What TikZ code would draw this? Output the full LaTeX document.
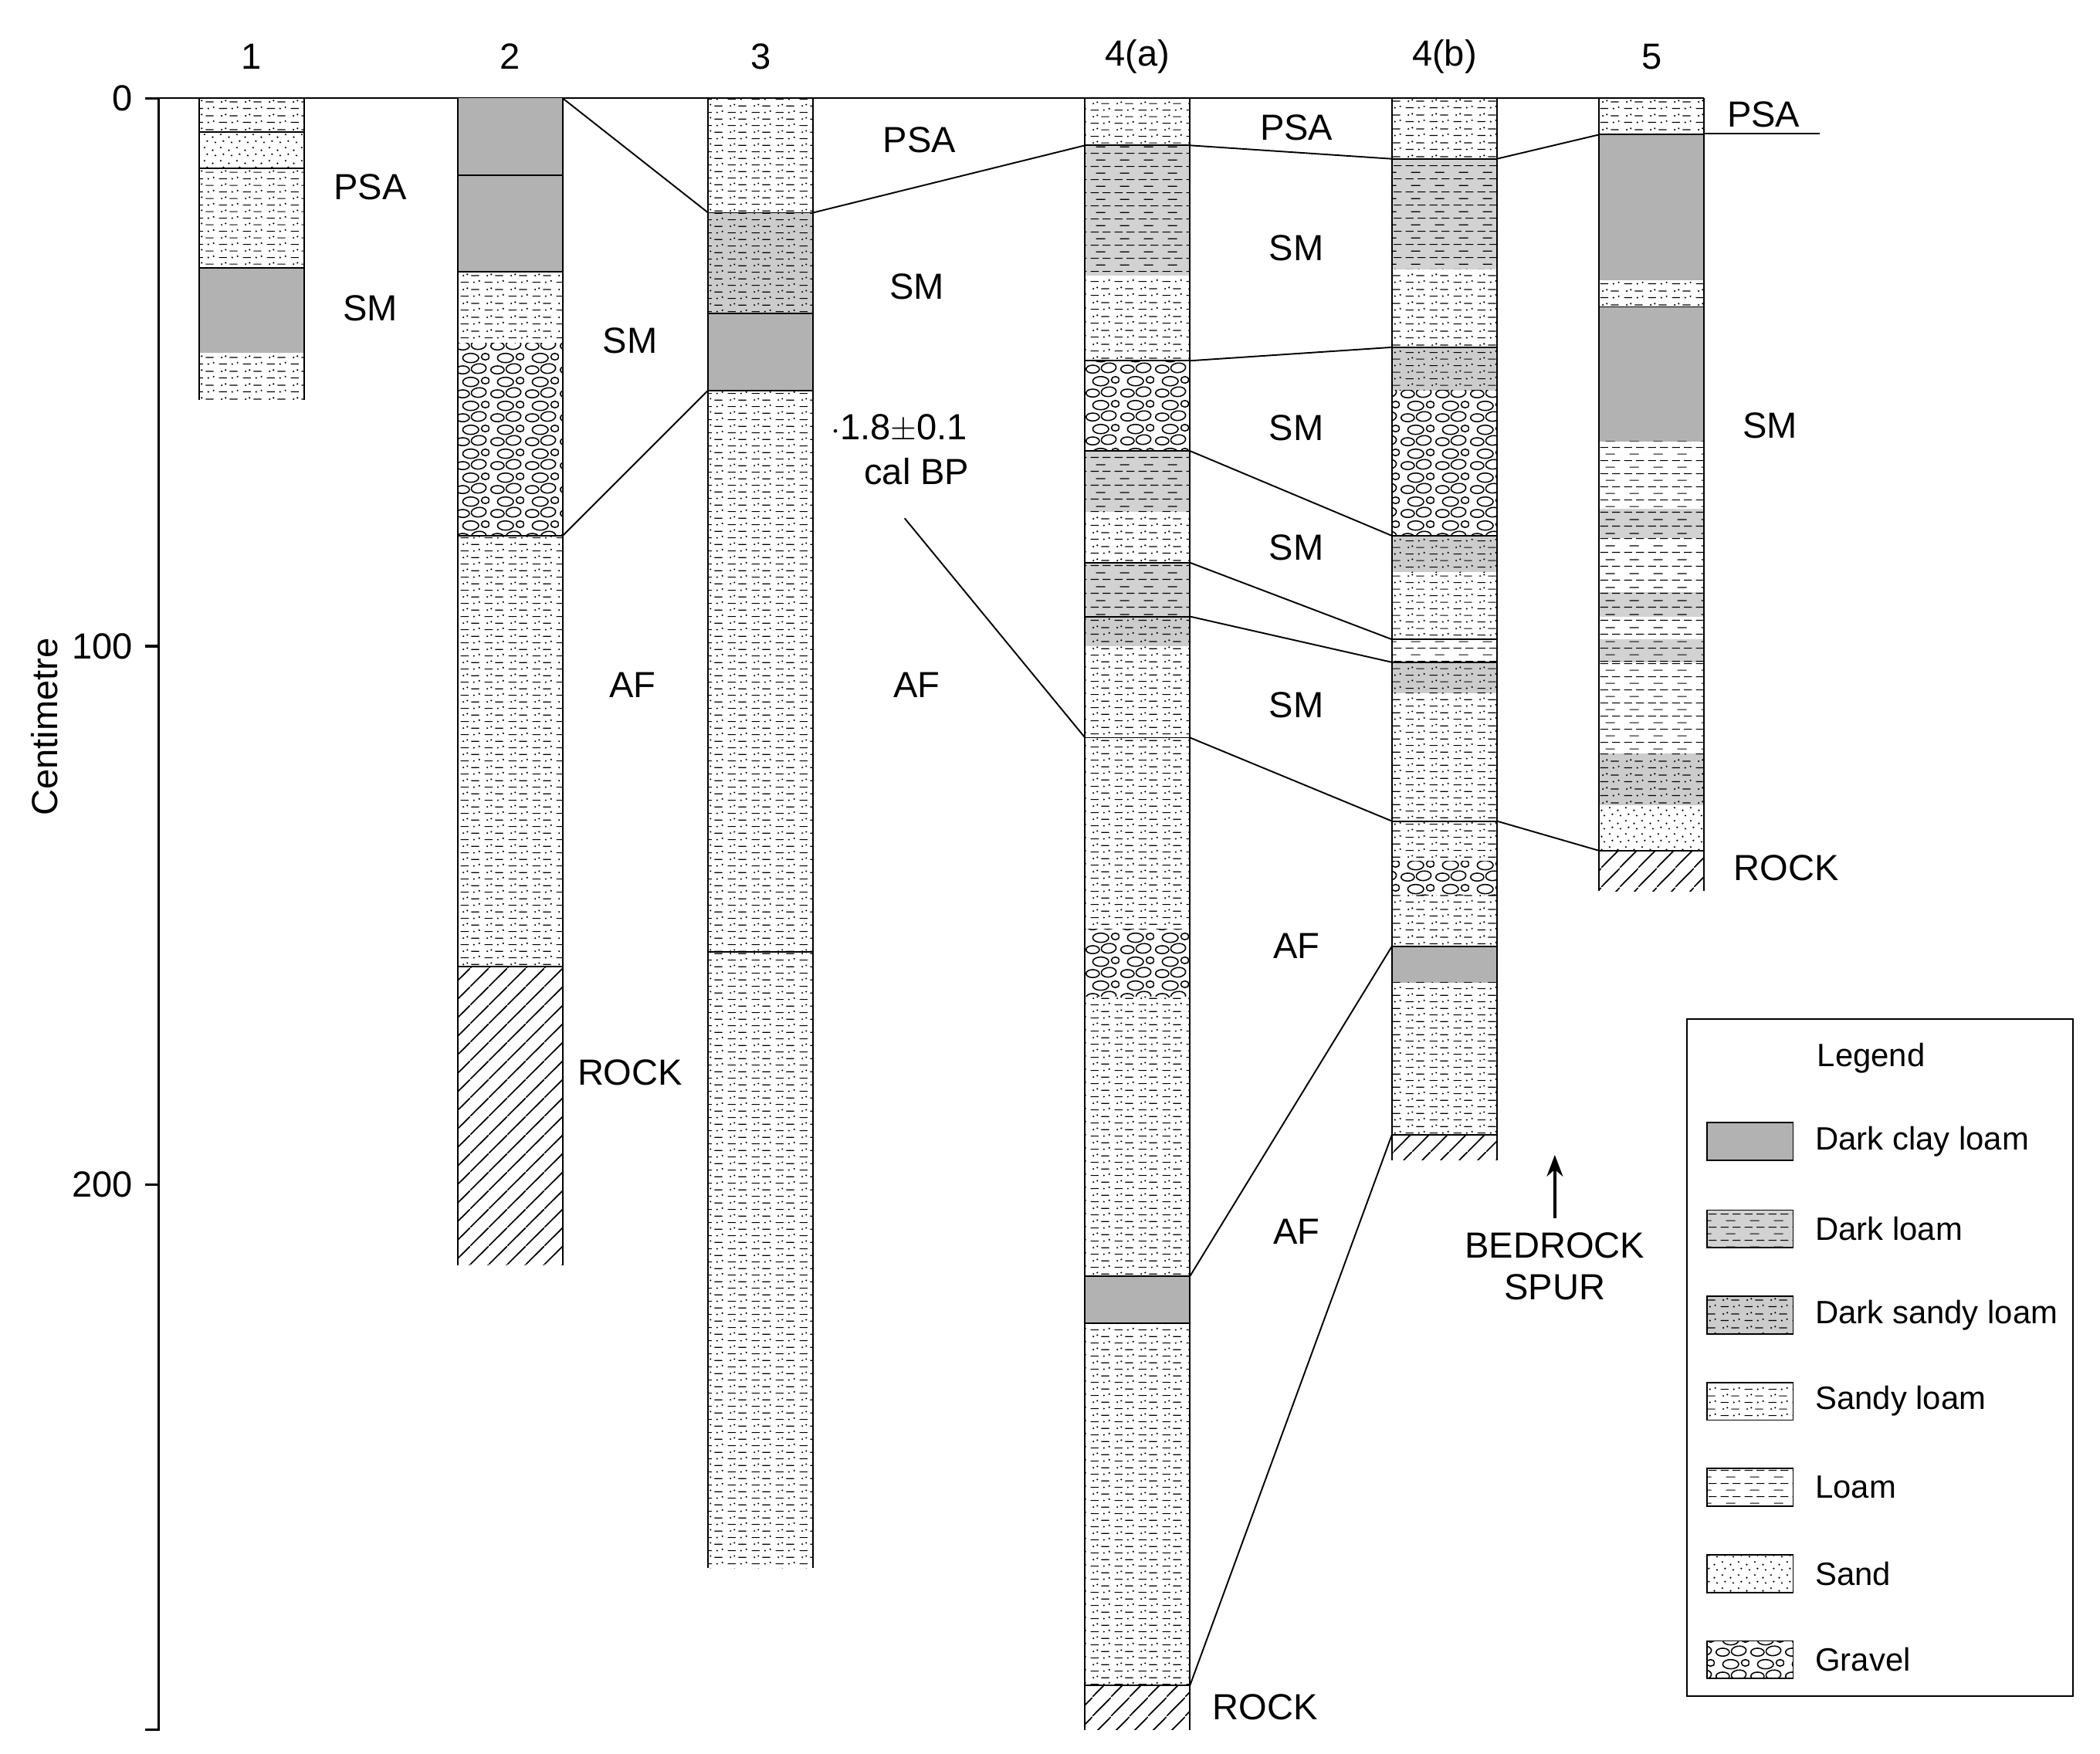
\documentclass[tikz,border=0pt]{standalone}
\usepackage{fontspec}
\setmainfont{Liberation Sans}
\usetikzlibrary{patterns.meta,arrows.meta}
\pgfdeclarepattern{name=loam,type=uncolored,bottom left={\pgfpoint{0pt}{0pt}},top right={\pgfpoint{18pt}{10pt}},tile size={\pgfpoint{18pt}{10pt}},
code={\pgfsetlinewidth{0.7pt}
\pgfpathmoveto{\pgfpoint{1pt}{2pt}}\pgfpathlineto{\pgfpoint{7pt}{2pt}}
\pgfpathmoveto{\pgfpoint{10pt}{2pt}}\pgfpathlineto{\pgfpoint{16pt}{2pt}}
\pgfpathmoveto{\pgfpoint{5pt}{7pt}}\pgfpathlineto{\pgfpoint{12pt}{7pt}}
\pgfusepath{stroke}}}
\pgfdeclarepattern{name=sand,type=uncolored,bottom left={\pgfpoint{0pt}{0pt}},top right={\pgfpoint{12pt}{10pt}},tile size={\pgfpoint{12pt}{10pt}},
code={\pgfpathcircle{\pgfpoint{2pt}{2pt}}{0.7pt}\pgfpathcircle{\pgfpoint{8pt}{4pt}}{0.7pt}
\pgfpathcircle{\pgfpoint{4pt}{8pt}}{0.7pt}\pgfpathcircle{\pgfpoint{10pt}{9pt}}{0.7pt}\pgfusepath{fill}}}
\pgfdeclarepattern{name=sloam,type=uncolored,bottom left={\pgfpoint{0pt}{0pt}},top right={\pgfpoint{18pt}{10pt}},tile size={\pgfpoint{18pt}{10pt}},
code={\pgfsetlinewidth{0.7pt}
\pgfpathmoveto{\pgfpoint{1pt}{2pt}}\pgfpathlineto{\pgfpoint{7pt}{2pt}}
\pgfpathmoveto{\pgfpoint{9pt}{7pt}}\pgfpathlineto{\pgfpoint{15pt}{7pt}}
\pgfusepath{stroke}
\pgfpathcircle{\pgfpoint{11pt}{2pt}}{0.7pt}\pgfpathcircle{\pgfpoint{15pt}{3pt}}{0.7pt}
\pgfpathcircle{\pgfpoint{3pt}{7pt}}{0.7pt}\pgfpathcircle{\pgfpoint{6pt}{8pt}}{0.7pt}\pgfusepath{fill}}}
\pgfdeclarepattern{name=gravel,type=uncolored,bottom left={\pgfpoint{0pt}{0pt}},top right={\pgfpoint{26pt}{18pt}},tile size={\pgfpoint{26pt}{18pt}},
code={\pgfsetlinewidth{0.9pt}
\pgfpathellipse{\pgfpoint{6pt}{4pt}}{\pgfpoint{5pt}{0pt}}{\pgfpoint{0pt}{3pt}}
\pgfpathellipse{\pgfpoint{18pt}{5pt}}{\pgfpoint{5.5pt}{1pt}}{\pgfpoint{-1pt}{3.5pt}}
\pgfpathellipse{\pgfpoint{12pt}{13pt}}{\pgfpoint{6pt}{0pt}}{\pgfpoint{0pt}{3.5pt}}
\pgfpathellipse{\pgfpoint{23pt}{14pt}}{\pgfpoint{3pt}{0pt}}{\pgfpoint{0pt}{2.5pt}}
\pgfusepath{stroke}}}
\pgfdeclarepattern{name=rock,type=uncolored,bottom left={\pgfpoint{0pt}{0pt}},top right={\pgfpoint{14pt}{14pt}},tile size={\pgfpoint{14pt}{14pt}},
code={\pgfsetlinewidth{1pt}\pgfpathmoveto{\pgfpoint{0pt}{0pt}}\pgfpathlineto{\pgfpoint{14pt}{14pt}}\pgfusepath{stroke}}}
\tikzset{
 dcl/.style={fill=gray!60},
 dl/.style={fill=gray!35,postaction={pattern=loam}},
 dsl/.style={fill=gray!40,postaction={pattern=sloam}},
 sl/.style={pattern=sloam},
 lo/.style={pattern=loam},
 sa/.style={pattern=sand},
 gr/.style={pattern=gravel},
 rk/.style={pattern=rock},
 lab/.style={font=\fontsize{27}{29}\selectfont},
 ln/.style={line width=1.1pt}
}
\newcommand\lyr[4]{\fill[#4] (#1,#2) rectangle ({#1+78},#3);}
\newcommand\bnd[2]{\draw[ln] (#1,#2) -- ({#1+78},#2);}
\newcommand\sides[3]{\draw[ln] (#1,#2) -- (#1,#3) ({#1+78},#2) -- ({#1+78},#3);}
\begin{document}
\begin{tikzpicture}[x=1pt,y=-1pt]
\useasboundingbox (0,0) rectangle (1560,1303);
% axis
\draw[line width=2pt] (118,73) -- (118,1285) -- (108,1285);
\foreach \y/\t in {73/0,480/100,880/200} {\draw[line width=2pt] (108,\y) -- (118,\y); \node[lab,anchor=east] at (102,\y) {\t};}
\node[lab,rotate=90] at (33,540) {Centimetre};
\draw[ln] (118,73) -- (1266,73);
% column numbers
\node[lab] at (187,42) {1};
\node[lab] at (379,42) {2};
\node[lab] at (565,42) {3};
\node[lab] at (845,42) {4(a)};
\node[lab] at (1073,42) {4(b)};
\node[lab] at (1227,42) {5};
% col 1
\def\X{148}
\lyr{\X}{73}{98}{sl}\lyr{\X}{98}{125}{sa}\lyr{\X}{125}{199}{sl}\lyr{\X}{199}{262}{dcl}\lyr{\X}{262}{297}{sl}
\bnd{\X}{98}\bnd{\X}{125}\bnd{\X}{199}\sides{\X}{73}{297}
% col 2
\def\X{340}
\lyr{\X}{73}{202}{dcl}\lyr{\X}{202}{255}{sl}\lyr{\X}{255}{398}{gr}\lyr{\X}{398}{718}{sl}\lyr{\X}{718}{940}{rk}
\bnd{\X}{130}\bnd{\X}{202}\bnd{\X}{398}\bnd{\X}{718}\sides{\X}{73}{940}
% col 3
\def\X{526}
\lyr{\X}{73}{158}{sl}\lyr{\X}{158}{233}{dsl}\lyr{\X}{233}{290}{dcl}\lyr{\X}{290}{707}{sl}\lyr{\X}{707}{1165}{sl}
\bnd{\X}{158}\bnd{\X}{233}\bnd{\X}{290}\bnd{\X}{707}\sides{\X}{73}{1165}
% col 4a
\def\X{806}
\lyr{\X}{73}{108}{sl}\lyr{\X}{108}{205}{dl}\lyr{\X}{205}{268}{sl}\lyr{\X}{268}{335}{gr}\lyr{\X}{335}{380}{dl}\lyr{\X}{380}{418}{sl}
\lyr{\X}{418}{458}{dl}\lyr{\X}{458}{480}{dsl}\lyr{\X}{480}{690}{sl}\lyr{\X}{690}{740}{gr}\lyr{\X}{740}{948}{sl}\lyr{\X}{948}{983}{dcl}
\lyr{\X}{983}{1252}{sl}\lyr{\X}{1252}{1285}{rk}
\bnd{\X}{108}\bnd{\X}{268}\bnd{\X}{335}\bnd{\X}{418}\bnd{\X}{458}\bnd{\X}{548}\bnd{\X}{948}\bnd{\X}{983}\bnd{\X}{1252}\sides{\X}{73}{1285}
% col 4b
\def\X{1034}
\lyr{\X}{73}{118}{sl}\lyr{\X}{118}{200}{dl}\lyr{\X}{200}{258}{sl}\lyr{\X}{258}{290}{dsl}\lyr{\X}{290}{398}{gr}\lyr{\X}{398}{425}{dsl}
\lyr{\X}{425}{475}{sl}\lyr{\X}{475}{492}{lo}\lyr{\X}{492}{515}{dsl}\lyr{\X}{515}{640}{sl}\lyr{\X}{640}{665}{gr}\lyr{\X}{665}{703}{sl}
\lyr{\X}{703}{730}{dcl}\lyr{\X}{730}{843}{sl}\lyr{\X}{843}{862}{rk}
\bnd{\X}{118}\bnd{\X}{258}\bnd{\X}{398}\bnd{\X}{475}\bnd{\X}{492}\bnd{\X}{610}\bnd{\X}{703}\bnd{\X}{843}\sides{\X}{73}{862}
% col 5
\def\X{1188}
\lyr{\X}{73}{100}{sl}\lyr{\X}{100}{208}{dcl}\lyr{\X}{208}{228}{sl}\lyr{\X}{228}{328}{dcl}\lyr{\X}{328}{378}{lo}\lyr{\X}{378}{400}{dl}
\lyr{\X}{400}{440}{lo}\lyr{\X}{440}{458}{dl}\lyr{\X}{458}{475}{lo}\lyr{\X}{475}{492}{dl}\lyr{\X}{492}{560}{lo}\lyr{\X}{560}{598}{dsl}
\lyr{\X}{598}{632}{sa}\lyr{\X}{632}{662}{rk}
\bnd{\X}{100}\bnd{\X}{228}\bnd{\X}{632}\sides{\X}{73}{662}
\draw[ln] (1266,99) -- (1352,99);
% correlation lines
\draw[ln] (418,73) -- (526,158);
\draw[ln] (418,398) -- (526,290);
\draw[ln] (604,158) -- (806,108);
\draw[ln] (884,108) -- (1034,118);
\draw[ln] (1112,118) -- (1188,100);
\draw[ln] (884,268) -- (1034,258);
\draw[ln] (884,335) -- (1034,398);
\draw[ln] (884,418) -- (1034,475);
\draw[ln] (884,458) -- (1034,492);
\draw[ln] (672,385) -- (806,548);
\draw[ln] (884,548) -- (1034,610);
\draw[ln] (1112,610) -- (1188,632);
\draw[ln] (884,948) -- (1034,703);
\draw[ln] (884,1252) -- (1034,843);
% labels
\node[lab] at (275,139) {PSA};
\node[lab] at (275,229) {SM};
\node[lab] at (468,253) {SM};
\node[lab] at (470,509) {AF};
\node[lab] at (468,797) {ROCK};
\node[lab] at (683,104) {PSA};
\node[lab] at (681,213) {SM};
\node[lab] at (681,509) {AF};
\node[lab] at (668,318) {$\cdot$1.8$\pm$0.1};
\node[lab] at (681,350) {cal BP};
\node[lab] at (963,95) {PSA};
\node[lab] at (963,184) {SM};
\node[lab] at (963,318) {SM};
\node[lab] at (963,407) {SM};
\node[lab] at (963,524) {SM};
\node[lab] at (963,703) {AF};
\node[lab] at (963,915) {AF};
\node[lab] at (940,1268) {ROCK};
\node[lab] at (1310,85) {PSA};
\node[lab] at (1315,316) {SM};
\node[lab] at (1327,645) {ROCK};
\coordinate (a1) at (1155,905);
\coordinate (a2) at (1155,858);
\draw[line width=2pt,-{Stealth[length=16pt,width=12pt]}] (a1) -- (a2);
\node[lab] at (1155,925) {BEDROCK};
\node[lab] at (1155,956) {SPUR};
% legend
\draw[ln] (1253,757) rectangle (1540,1260);
\node[font=\fontsize{24}{26}\selectfont] at (1390,786) {Legend};
\foreach \y/\s/\t in {848/dcl/Dark clay loam,913/dl/Dark loam,977/dsl/Dark sandy loam,1041/sl/Sandy loam,1105/lo/Loam,1169/sa/Sand,1233/gr/Gravel}{
 \draw[ln,\s] (1268,{\y-14}) rectangle (1332,{\y+14});
 \node[font=\fontsize{24}{26}\selectfont,anchor=west] at (1345,\y) {\t};
}
\end{tikzpicture}
\end{document}
